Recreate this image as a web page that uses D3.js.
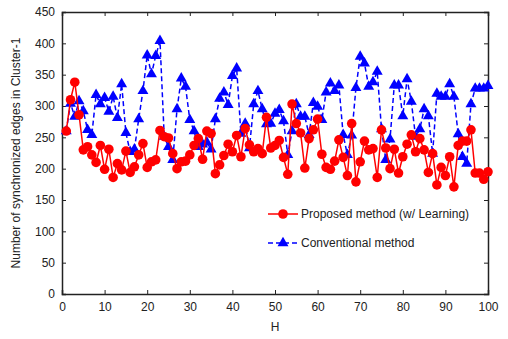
<!DOCTYPE html>
<html><head><meta charset="utf-8">
<script src="https://cdn.jsdelivr.net/npm/d3@7"></script>
<style>body{margin:0;background:#fff}svg{display:block}text{font-family:"Liberation Sans",Arial,sans-serif;fill:#222}</style>
</head><body>
<script>
const H = d3.range(1, 101);
const proposed = [260,310,338,286,230,235,222,210,237,199,231,186,208,198,228,194,203,222,240,202,211,214,261,251,249,224,200,211,212,222,237,248,215,260,256,192,206,221,239,227,253,219,264,238,227,232,224,282,233,237,245,218,191,303,272,257,201,248,262,279,223,202,199,212,246,218,189,272,179,211,244,230,232,186,262,233,200,231,193,219,239,254,227,248,230,194,224,174,202,189,219,171,237,244,244,262,193,193,183,195];
const conventional = [260,304,283,308,292,262,254,318,303,313,291,315,281,335,257,227,231,279,324,381,351,380,404,251,235,214,295,344,331,278,260,235,239,242,231,279,312,322,302,348,360,256,272,233,303,324,295,271,272,288,294,276,222,260,303,283,283,254,305,299,278,322,336,324,333,254,222,253,329,379,368,331,338,355,263,214,247,333,333,284,343,307,251,263,295,284,224,320,315,315,335,315,255,219,208,303,328,328,328,332];
const xTicks = [0,10,20,30,40,50,60,70,80,90,100];
const yTicks = [0,50,100,150,200,250,300,350,400,450];
const seriesNames = ["Proposed method (w/ Learning)", "Conventional method"];
const xLabel = "H";
const yLabel = "Number of synchronized edges in Cluster-1";

const W = 508, Ht = 339;
const m = {l:62, r:20, t:12, b:45};
const svg = d3.select("body").append("svg").attr("width", W).attr("height", Ht);
const x = d3.scaleLinear().domain([0,100]).range([m.l, W - m.r]);
const y = d3.scaleLinear().domain([0,450]).range([Ht - m.b, m.t]);
const fs = "12px";

// axes with inward ticks
const gB = svg.append("g").attr("transform", `translate(0,${y(0)})`)
  .call(d3.axisBottom(x).tickValues(xTicks).tickSize(-4).tickPadding(8));
const gT = svg.append("g").attr("transform", `translate(0,${y(450)})`)
  .call(d3.axisTop(x).tickValues(xTicks).tickSize(-4).tickFormat(""));
const gL = svg.append("g").attr("transform", `translate(${x(0)},0)`)
  .call(d3.axisLeft(y).tickValues(yTicks).tickSize(-4).tickPadding(7));
const gR = svg.append("g").attr("transform", `translate(${x(100)},0)`)
  .call(d3.axisRight(y).tickValues(yTicks).tickSize(-4).tickFormat(""));
[gB,gT,gL,gR].forEach(g => {
  g.select(".domain").attr("stroke", "#222").attr("stroke-width", 1.5);
  g.selectAll(".tick line").attr("stroke", "#222").attr("stroke-width", 1);
  g.selectAll(".tick text").attr("font-size", fs).attr("fill", "#222")
    .attr("font-family", '"Liberation Sans",Arial,sans-serif');
});

// blue conventional
const lineB = d3.line().x((d,i) => x(H[i])).y(d => y(d));
svg.append("path").datum(conventional).attr("d", lineB)
  .attr("fill","none").attr("stroke","#0000ff").attr("stroke-width",1.5).attr("stroke-dasharray","5,3");
const tri = d3.symbol().type(d3.symbolTriangle).size(52);
svg.append("g").selectAll("path").data(conventional).join("path")
  .attr("d", tri).attr("transform", (d,i) => `translate(${x(H[i])},${y(d)})`).attr("fill","#0000ff");

// red proposed
svg.append("path").datum(proposed).attr("d", lineB)
  .attr("fill","none").attr("stroke","#ff0000").attr("stroke-width",1.5);
svg.append("g").selectAll("circle").data(proposed).join("circle")
  .attr("cx", (d,i) => x(H[i])).attr("cy", d => y(d)).attr("r", 4.8).attr("fill","#ff0000");

// legend
const lg = svg.append("g");
const lx = 268, ly = [214, 243];
lg.append("line").attr("x1", lx).attr("x2", lx+30).attr("y1", ly[0]).attr("y2", ly[0]).attr("stroke","#ff0000").attr("stroke-width",1.5);
lg.append("circle").attr("cx", lx+15).attr("cy", ly[0]).attr("r", 4.8).attr("fill","#ff0000");
lg.append("line").attr("x1", lx).attr("x2", lx+30).attr("y1", ly[1]).attr("y2", ly[1]).attr("stroke","#0000ff").attr("stroke-width",1.5).attr("stroke-dasharray","5,3");
lg.append("path").attr("d", tri).attr("transform", `translate(${lx+15},${ly[1]})`).attr("fill","#0000ff");
seriesNames.forEach((s,i) => lg.append("text").attr("x", lx+33).attr("y", ly[i]).attr("dy","0.35em").attr("font-size", fs).text(s));

// axis labels
svg.append("text").attr("x", x(50)).attr("y", 331).attr("text-anchor","middle").attr("font-size", fs).text(xLabel);
svg.append("text").attr("transform", `translate(20,${(y(0)+y(450))/2}) rotate(-90)`).attr("text-anchor","middle")
  .attr("font-size", fs).text(yLabel);
</script>
</body></html>
